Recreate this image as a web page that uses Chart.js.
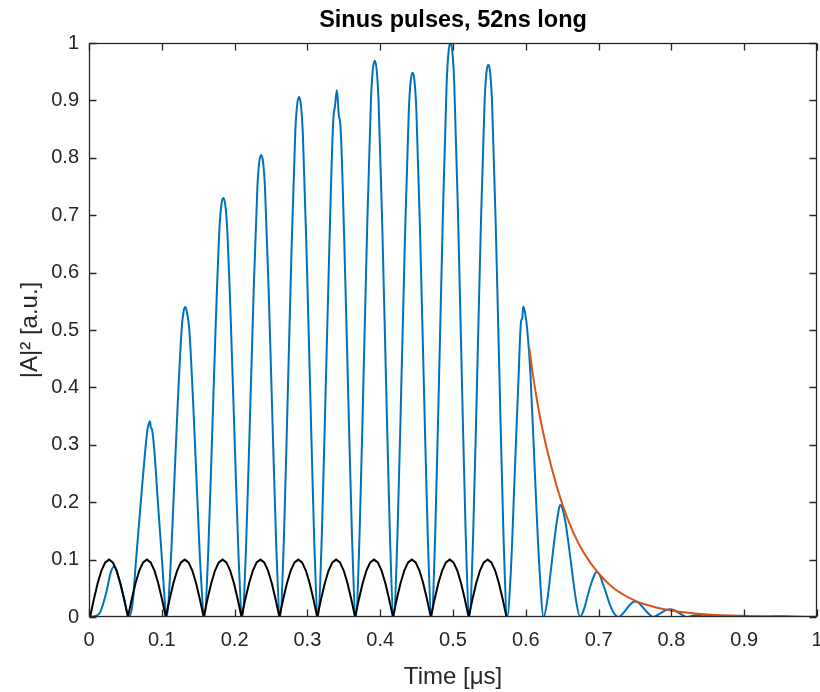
<!DOCTYPE html>
<html>
<head>
<meta charset="utf-8">
<script src="https://cdn.jsdelivr.net/npm/chart.js@4"></script>
<style>
html,body{margin:0;padding:0;background:#fff;}
#wrap{width:820px;height:692px;}
</style>
</head>
<body>
<div id="wrap"><canvas id="c" width="820" height="692"></canvas></div>
<script>
// ---- data ----
const chartTitle = 'Sinus pulses, 52ns long';
const xTitle = 'Time [μs]';
const yTitle = '|A|² [a.u.]';
const xTicks = [0, 0.1, 0.2, 0.3, 0.4, 0.5, 0.6, 0.7, 0.8, 0.9, 1];
const yTicks = [0, 0.1, 0.2, 0.3, 0.4, 0.5, 0.6, 0.7, 0.8, 0.9, 1];

// measured |A|^2 (blue)
const blueT = [
  0.0025, 0.0141, 0.0234, 0.0302, 0.0348, 0.0416, 0.0485,
  0.0548, 0.0600, 0.0646, 0.0714, 0.0773, 0.0806, 0.0825, 0.0838, 0.0850, 0.0865, 0.0897, 0.0944, 0.1003, 0.1040,
  0.1065, 0.1117, 0.1169, 0.1221, 0.1273, 0.1299, 0.1325, 0.1351, 0.1377, 0.1429, 0.1481, 0.1533,
  0.1585, 0.1637, 0.1689, 0.1741, 0.1793, 0.1819, 0.1845, 0.1871, 0.1897, 0.1949, 0.2001, 0.2053,
  0.2105, 0.2157, 0.2209, 0.2261, 0.2313, 0.2339, 0.2365, 0.2391, 0.2417, 0.2469, 0.2521, 0.2573,
  0.2625, 0.2677, 0.2729, 0.2781, 0.2833, 0.2859, 0.2885, 0.2911, 0.2937, 0.2989, 0.3041, 0.3093,
  0.3145, 0.3197, 0.3249, 0.3301, 0.3353, 0.3379, 0.3405, 0.3431, 0.3457, 0.3509, 0.3561, 0.3613,
  0.3665, 0.3717, 0.3769, 0.3821, 0.3873, 0.3899, 0.3925, 0.3951, 0.3977, 0.4029, 0.4081, 0.4133,
  0.4185, 0.4237, 0.4289, 0.4341, 0.4393, 0.4419, 0.4445, 0.4471, 0.4497, 0.4549, 0.4601, 0.4653,
  0.4705, 0.4757, 0.4809, 0.4861, 0.4913, 0.4939, 0.4965, 0.4991, 0.5017, 0.5069, 0.5121, 0.5173,
  0.5225, 0.5277, 0.5329, 0.5381, 0.5433, 0.5459, 0.5485, 0.5511, 0.5537, 0.5589, 0.5641, 0.5693,
  0.5745, 0.5795, 0.5845, 0.5895, 0.5935, 0.5950, 0.5966, 0.5990, 0.6020, 0.6065, 0.6125, 0.6185,
  0.6245, 0.6295, 0.6345, 0.6395, 0.6445, 0.6470, 0.6495, 0.6520, 0.6545, 0.6595, 0.6645, 0.6695,
  0.6745, 0.6795, 0.6845, 0.6895, 0.6945, 0.6970, 0.6995, 0.7020, 0.7045, 0.7095, 0.7145, 0.7205,
  0.7270, 0.7318, 0.7366, 0.7414, 0.7462, 0.7500, 0.7534, 0.7558, 0.7606, 0.7654, 0.7702,
  0.7750, 0.7842, 0.7934, 0.7980, 0.8026, 0.8118,
  0.8210, 0.8330, 0.8450, 0.8570, 0.8700, 0.8850, 0.9000, 0.9150, 0.9300, 0.9500, 0.9700, 1.0000
];
const blueA = [
  0, 0.006, 0.041, 0.079, 0.088, 0.064, 0.030,
  0, 0.025, 0.099, 0.204, 0.291, 0.329, 0.338, 0.341, 0.330, 0.327, 0.291, 0.204, 0.099, 0.030,
  0, 0.081, 0.227, 0.378, 0.502, 0.532, 0.540, 0.527, 0.502, 0.378, 0.227, 0.081,
  0, 0.110, 0.307, 0.511, 0.679, 0.719, 0.730, 0.719, 0.679, 0.511, 0.307, 0.110,
  0, 0.121, 0.338, 0.564, 0.749, 0.793, 0.805, 0.793, 0.749, 0.564, 0.338, 0.121,
  0, 0.136, 0.381, 0.634, 0.843, 0.892, 0.906, 0.892, 0.843, 0.634, 0.381, 0.136,
  0, 0.138, 0.386, 0.643, 0.860, 0.890, 0.918, 0.875, 0.850, 0.643, 0.386, 0.138,
  0, 0.145, 0.407, 0.678, 0.901, 0.954, 0.969, 0.954, 0.901, 0.678, 0.407, 0.145,
  0, 0.142, 0.398, 0.664, 0.882, 0.934, 0.948, 0.934, 0.882, 0.664, 0.398, 0.142,
  0, 0.150, 0.420, 0.700, 0.930, 0.985, 1.000, 0.985, 0.930, 0.700, 0.420, 0.150,
  0, 0.144, 0.404, 0.673, 0.895, 0.948, 0.962, 0.948, 0.895, 0.673, 0.404, 0.144,
  0, 0.081, 0.240, 0.400, 0.515, 0.520, 0.541, 0.530, 0.500, 0.420, 0.250, 0.090,
  0, 0.029, 0.082, 0.137, 0.181, 0.195, 0.192, 0.181, 0.165, 0.120, 0.070, 0.025,
  0, 0.012, 0.035, 0.057, 0.074, 0.079, 0.077, 0.072, 0.063, 0.045, 0.025, 0.008,
  0, 0.004, 0.011, 0.019, 0.025, 0.027, 0.026, 0.024, 0.017, 0.010, 0.004,
  0, 0.006, 0.0125, 0.0134, 0.0125, 0.006,
  0, 0.003, 0.004, 0.003, 0, 0.0015, 0.002, 0.001, 0.0008, 0.0015, 0.0005, 0
];

// sinus pulse envelope (black)
const blackT = [
  0.0000, 0.0015, 0.0067, 0.0119, 0.0171, 0.0223, 0.0275, 0.0327, 0.0379, 0.0431, 0.0483,
  0.0535, 0.0587, 0.0639, 0.0691, 0.0743, 0.0795, 0.0847, 0.0899, 0.0951, 0.1003,
  0.1055, 0.1107, 0.1159, 0.1211, 0.1263, 0.1315, 0.1367, 0.1419, 0.1471, 0.1523,
  0.1575, 0.1627, 0.1679, 0.1731, 0.1783, 0.1835, 0.1887, 0.1939, 0.1991, 0.2043,
  0.2095, 0.2147, 0.2199, 0.2251, 0.2303, 0.2355, 0.2407, 0.2459, 0.2511, 0.2563,
  0.2615, 0.2667, 0.2719, 0.2771, 0.2823, 0.2875, 0.2927, 0.2979, 0.3031, 0.3083,
  0.3135, 0.3187, 0.3239, 0.3291, 0.3343, 0.3395, 0.3447, 0.3499, 0.3551, 0.3603,
  0.3655, 0.3707, 0.3759, 0.3811, 0.3863, 0.3915, 0.3967, 0.4019, 0.4071, 0.4123,
  0.4175, 0.4227, 0.4279, 0.4331, 0.4383, 0.4435, 0.4487, 0.4539, 0.4591, 0.4643,
  0.4695, 0.4747, 0.4799, 0.4851, 0.4903, 0.4955, 0.5007, 0.5059, 0.5111, 0.5163,
  0.5215, 0.5267, 0.5319, 0.5371, 0.5423, 0.5475, 0.5527, 0.5579, 0.5631, 0.5683,
  0.5735, 1.0000
];
const blackA = [
  0, 0, 0.0309, 0.0588, 0.0809, 0.0951, 0.1, 0.0951, 0.0809, 0.0588, 0.0309,
  0, 0.0309, 0.0588, 0.0809, 0.0951, 0.1, 0.0951, 0.0809, 0.0588, 0.0309,
  0, 0.0309, 0.0588, 0.0809, 0.0951, 0.1, 0.0951, 0.0809, 0.0588, 0.0309,
  0, 0.0309, 0.0588, 0.0809, 0.0951, 0.1, 0.0951, 0.0809, 0.0588, 0.0309,
  0, 0.0309, 0.0588, 0.0809, 0.0951, 0.1, 0.0951, 0.0809, 0.0588, 0.0309,
  0, 0.0309, 0.0588, 0.0809, 0.0951, 0.1, 0.0951, 0.0809, 0.0588, 0.0309,
  0, 0.0309, 0.0588, 0.0809, 0.0951, 0.1, 0.0951, 0.0809, 0.0588, 0.0309,
  0, 0.0309, 0.0588, 0.0809, 0.0951, 0.1, 0.0951, 0.0809, 0.0588, 0.0309,
  0, 0.0309, 0.0588, 0.0809, 0.0951, 0.1, 0.0951, 0.0809, 0.0588, 0.0309,
  0, 0.0309, 0.0588, 0.0809, 0.0951, 0.1, 0.0951, 0.0809, 0.0588, 0.0309,
  0, 0.0309, 0.0588, 0.0809, 0.0951, 0.1, 0.0951, 0.0809, 0.0588, 0.0309,
  0, 0
];

// decay fit (orange)
const orangeT = [0.6049, 0.6100, 0.6200, 0.6350, 0.6500, 0.6650, 0.6800, 0.7000, 0.7200, 0.7500, 0.7750, 0.8000, 0.8500, 0.9000, 0.9500, 1.0000];
const orangeA = [0.468, 0.420, 0.345, 0.262, 0.197, 0.148, 0.111, 0.076, 0.051, 0.0285, 0.018, 0.0115, 0.0045, 0.0018, 0.0007, 0.0003];

// ---- chart ----
const FONT = "'Liberation Sans', Arial, Helvetica, sans-serif";
const AXIS = '#262626';
const pts = (t, a) => t.map((v, i) => ({x: v, y: a[i]}));

const boxPlugin = {
  id: 'matlabBox',
  afterDatasetsDraw(chart) {
    const {ctx, chartArea: a, scales: {x, y}} = chart;
    const L = 7;
    const l = Math.round(a.left) + 0.5, r = Math.round(a.right) - 0.5;
    const t = Math.round(a.top) + 0.5, b = Math.round(a.bottom) - 0.5;
    ctx.save();
    ctx.strokeStyle = AXIS;
    ctx.lineWidth = 1.3;
    ctx.beginPath();
    xTicks.forEach(v => {
      const px = Math.round(x.getPixelForValue(v)) + 0.5;
      ctx.moveTo(px, b); ctx.lineTo(px, b - L);
      ctx.moveTo(px, t); ctx.lineTo(px, t + L);
    });
    yTicks.forEach(v => {
      const py = Math.round(y.getPixelForValue(v)) + 0.5;
      ctx.moveTo(l, py); ctx.lineTo(l + L, py);
      ctx.moveTo(r, py); ctx.lineTo(r - L, py);
    });
    ctx.stroke();
    ctx.strokeRect(l, t, r - l, b - t);
    ctx.restore();
  }
};

new Chart(document.getElementById('c'), {
  type: 'line',
  data: {
    datasets: [
      {label: 'fit', data: pts(orangeT, orangeA), borderColor: '#D95319', borderWidth: 2, pointRadius: 0, cubicInterpolationMode: 'monotone', fill: false},
      {label: 'pulses', data: pts(blackT, blackA), borderColor: '#000000', borderWidth: 2, pointRadius: 0, tension: 0, fill: false},
      {label: '|A|^2', data: pts(blueT, blueA), borderColor: '#0072BD', borderWidth: 2, pointRadius: 0, cubicInterpolationMode: 'monotone', fill: false}
    ]
  },
  options: {
    responsive: false,
    animation: false,
    devicePixelRatio: 1,
    layout: {padding: {left: 0, right: 3, top: 0, bottom: 0}},
    plugins: {
      legend: {display: false},
      tooltip: {enabled: false},
      title: {
        display: true, text: chartTitle, fullSize: false, color: '#000',
        font: {family: FONT, size: 23.5, weight: 'bold'},
        padding: {top: 6.9, bottom: 7.9}
      }
    },
    scales: {
      x: {
        type: 'linear', min: 0, max: 1,
        afterBuildTicks(s) { s.ticks = xTicks.map(v => ({value: v})); },
        ticks: {font: {family: FONT, size: 20}, color: AXIS, padding: 11, maxRotation: 0, autoSkip: false,
          callback: v => String(+v.toFixed(1))},
        grid: {display: false, drawTicks: false},
        border: {display: false},
        title: {display: true, text: xTitle, color: AXIS, font: {family: FONT, size: 24}, padding: {top: 0, bottom: 0.6}},
        afterFit(s) { s.height = 75; s.paddingLeft = 0; s.paddingRight = 0; }
      },
      y: {
        type: 'linear', min: 0, max: 1,
        afterBuildTicks(s) { s.ticks = yTicks.map(v => ({value: v})); },
        ticks: {font: {family: FONT, size: 20}, color: AXIS, padding: 10, autoSkip: false,
          callback: v => String(+v.toFixed(1))},
        grid: {display: false, drawTicks: false},
        border: {display: false},
        title: {display: true, text: yTitle, color: AXIS, font: {family: FONT, size: 24}, padding: {top: 15.6, bottom: 0}},
        afterFit(s) { s.width = 89; s.paddingTop = 0; s.paddingBottom = 0; }
      }
    }
  },
  plugins: [boxPlugin]
});
</script>
</body>
</html>
